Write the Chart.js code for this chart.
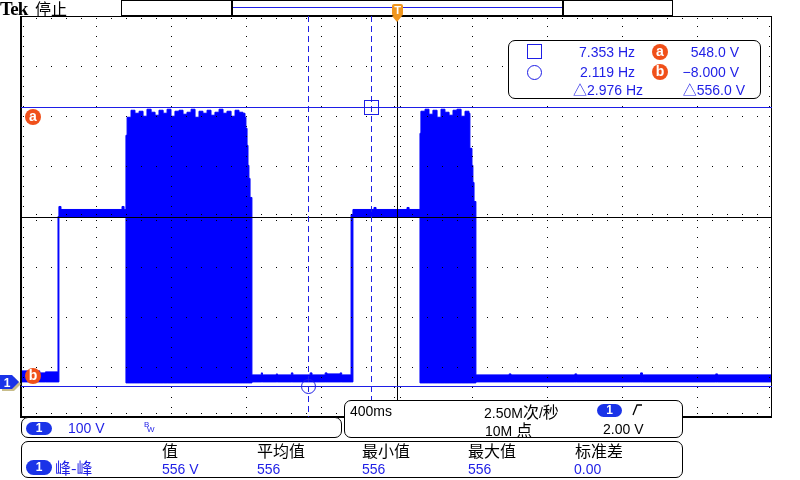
<!DOCTYPE html>
<html lang="zh">
<head>
<meta charset="utf-8">
<title>Tek 停止</title>
<script src="https://cdn.jsdelivr.net/npm/chart.js@4.4.1/dist/chart.umd.min.js"></script>
<style>
  html, body { margin: 0; padding: 0; background: #fff; }
  #scope { position: relative; width: 800px; height: 480px; overflow: hidden;
    font-family: 'Liberation Sans', 'Noto Sans CJK SC', sans-serif; font-size: 14px; }
  #scope canvas { position: absolute; left: 0; top: 0; }
  .txt { position: absolute; white-space: nowrap; line-height: 14px; }
  .cjk { font-family: 'Noto Sans CJK SC', sans-serif; font-size: 16px; line-height: 16px; }
  .in { font-family: 'Noto Sans CJK SC', sans-serif; font-size: 16px; line-height: 14px; }
  .blue { color: #1e1ee6; }
  .box { position: absolute; box-sizing: border-box; border: 1px solid #000; border-radius: 7px; background: #fff; }
  .pill { position: absolute; box-sizing: border-box; background: #1a33e8; color: #fff; border-radius: 8px;
    font-weight: bold; font-size: 12px; text-align: center; }
  .mark { position: absolute; width: 16px; height: 16px; border-radius: 50%; background: #f0501a; color: #fff;
    font-weight: bold; font-size: 14px; line-height: 14px; text-align: center; }
</style>
</head>
<body>
<div id="scope">
  <canvas id="wave" width="800" height="480"></canvas>

  <!-- top bar -->
  <div class="txt" style="left:0;top:0;font:bold 19px/18px 'Liberation Serif',serif;letter-spacing:-0.8px">Tek</div>
  <div class="txt cjk" style="left:35px;top:0">停止</div>
  <div style="position:absolute;left:121px;top:0;width:552px;height:16px;border:1px solid #000;box-sizing:border-box"></div>
  <div style="position:absolute;left:231px;top:0;width:333px;height:16px;border:1px solid #000;border-left-width:2px;border-right-width:2px;box-sizing:border-box"></div>
  <div style="position:absolute;left:233px;top:7px;width:329px;height:1px;background:#1e1ee6"></div>
  <div id="trig" style="position:absolute;top:4px;width:11px">
    <div style="height:12px;background:#f0961e;color:#fff;font:bold 11px/12px 'Liberation Sans',sans-serif;text-align:center;border-radius:2px">T</div>
    <div style="width:0;height:0;border-left:5.5px solid transparent;border-right:5.5px solid transparent;border-top:6px solid #f0961e"></div>
  </div>

  <!-- cursor readout -->
  <div class="box" style="left:508px;top:40px;width:253px;height:59px"></div>
  <div style="position:absolute;left:527px;top:44px;width:15px;height:15px;border:1.5px solid #1e1ee6;box-sizing:border-box"></div>
  <div style="position:absolute;left:527px;top:65px;width:15px;height:15px;border:1.5px solid #1e1ee6;border-radius:50%;box-sizing:border-box"></div>
  <div class="txt blue" style="right:165px;top:45px">7.353 Hz</div>
  <div class="txt blue" style="right:165px;top:65px">2.119 Hz</div>
  <div class="txt blue" style="right:157px;top:83px">△2.976 Hz</div>
  <div class="mark" style="left:652px;top:44px">a</div>
  <div class="mark" style="left:652px;top:64px">b</div>
  <div class="txt blue" style="right:61px;top:45px">548.0 V</div>
  <div class="txt blue" style="right:61px;top:65px">−8.000 V</div>
  <div class="txt blue" style="right:55px;top:83px">△556.0 V</div>

  <!-- cursor / ground markers (placed from the scales below) -->
  <div id="markA" class="mark">a</div>
  <div id="markB" class="mark">b</div>
  <svg id="gnd" width="24" height="19" style="position:absolute;left:0">
    <polygon points="2,3 14,3 21,10 14,17 2,17" fill="#c8bd8a"/>
    <polygon points="0,1 12,1 19,8 12,15 0,15" fill="#1a33e8"/>
    <text x="7" y="13" fill="#fff" font-family="Liberation Sans" font-weight="bold" font-size="12" text-anchor="middle">1</text>
  </svg>

  <!-- channel panel -->
  <div class="box" style="left:21px;top:417px;width:321px;height:21px"></div>
  <div class="pill" style="left:26px;top:422px;width:26px;height:13px;line-height:13px">1</div>
  <div class="txt blue" style="left:68px;top:421px">100 V</div>
  <div class="txt blue" style="left:144px;top:421px;font-size:8px;line-height:8px">B</div>
  <div class="txt blue" style="left:147px;top:426px;font-size:8px;line-height:8px">W</div>

  <!-- timebase panel -->
  <div class="box" style="left:344px;top:400px;width:339px;height:38px"></div>
  <div class="txt" style="left:350px;top:404px">400ms</div>
  <div class="txt" style="left:484px;top:404px">2.50M<span class="in">次</span>/<span class="in">秒</span></div>
  <div class="pill" style="left:597px;top:404px;width:25px;height:13px;line-height:13px">1</div>
  <svg style="position:absolute;left:630px;top:403px" width="16" height="16"><polyline points="3,12 7,2 12,2" fill="none" stroke="#000" stroke-width="1.3"/></svg>
  <div class="txt" style="left:485px;top:422px">10M <span class="in">点</span></div>
  <div class="txt" style="left:603px;top:422px">2.00 V</div>

  <!-- measurement panel -->
  <div class="box" style="left:21px;top:441px;width:662px;height:37px"></div>
  <div class="txt cjk" style="left:162px;top:442px">值</div>
  <div class="txt cjk" style="left:257px;top:442px">平均值</div>
  <div class="txt cjk" style="left:362px;top:442px">最小值</div>
  <div class="txt cjk" style="left:468px;top:442px">最大值</div>
  <div class="txt cjk" style="left:575px;top:442px">标准差</div>
  <div class="pill" style="left:26px;top:460px;width:26px;height:15px;line-height:15px">1</div>
  <div class="txt cjk blue" style="left:55px;top:459px">峰-峰</div>
  <div class="txt blue" style="left:162px;top:462px">556 V</div>
  <div class="txt blue" style="left:257px;top:462px">556</div>
  <div class="txt blue" style="left:362px;top:462px">556</div>
  <div class="txt blue" style="left:468px;top:462px">556</div>
  <div class="txt blue" style="left:574px;top:462px">0.00</div>
</div>

<script>
// graticule: 10 x 400ms, 8 x 100V (ground 0.7 div above the bottom)
const timeDivs = [-2.0, -1.6, -1.2, -0.8, -0.4, 0, 0.4, 0.8, 1.2, 1.6, 2.0];
const voltDivs = [-70, 30, 130, 230, 330, 430, 530, 630, 730];

// cursors: a / b voltage, square / circle time (s from trigger)
const cursorVolts = [548, -8];
const cursorTimes = [-0.136, -0.472];

// acquired envelope: time (s), max (V), min (V) - each value holds until the next time
const sampleTime = [
  -2.000, -1.900, -1.870, -1.803, -1.798, -1.787, -1.462, -1.451,
  -1.441, -1.435, -1.414, -1.393, -1.371, -1.350, -1.329, -1.307, -1.286, -1.265, -1.243,
  -1.222, -1.201, -1.180, -1.158, -1.137, -1.116, -1.094, -1.073, -1.052, -1.031,
  -1.009, -0.988, -0.967, -0.945, -0.924, -0.903, -0.881, -0.860, -0.839, -0.818,
  -0.807, -0.802, -0.796, -0.791, -0.786, -0.780,
  -0.770, -0.720, -0.714, -0.640, -0.634, -0.560, -0.552, -0.460, -0.450, -0.380, -0.370, -0.300, -0.292,
  -0.242, -0.232, -0.120, -0.109, 0.056, 0.067,
  0.125, 0.130, 0.152, 0.173, 0.194, 0.216, 0.237, 0.258, 0.280, 0.301, 0.322, 0.344, 0.365, 0.386,
  0.391, 0.402, 0.407, 0.413,
  0.423, 0.600, 0.610, 0.950, 0.960, 1.300, 1.310, 1.700, 1.710, 2.000
];
const sampleMax = [
  22, 18, 20, 330, 350, 344, 350, 344,
  492, 528, 542, 536, 540, 530, 544, 538, 532, 542, 536,
  544, 530, 540, 542, 534, 538, 544, 528, 540, 536,
  542, 532, 538, 544, 536, 540, 530, 542, 538, 536,
  528, 506, 472, 432, 406, 368,
  14, 18, 14, 16, 14, 18, 14, 18, 14, 18, 16, 18, 14,
  334, 344, 348, 344, 348, 344,
  496, 540, 544, 534, 542, 528, 544, 538, 532, 542, 544, 530, 540, 536,
  466, 432, 398, 360,
  14, 16, 14, 16, 14, 18, 14, 16, 14, 14
];
const sampleMin = [
  0, 0, 0, 0, 328, 328, 328, 328,
  -2, -2, -2, -2, -2, -2, -2, -2, -2, -2, -2,
  -2, -2, -2, -2, -2, -2, -2, -2, -2, -2,
  -2, -2, -2, -2, -2, -2, -2, -2, -2, -2,
  -2, -2, -2, -2, -2, -2,
  0, 0, 0, 0, 0, 0, 0, 0, 0, 0, 0, 0, 0,
  0, 328, 328, 328, 328, 328,
  -2, -2, -2, -2, -2, -2, -2, -2, -2, -2, -2, -2, -2, -2,
  -2, -2, -2, -2,
  0, 0, 0, 0, 0, 0, 0, 0, 0, 0
];

const TRACE = '#0000ff';
const CURSOR = '#1e1ee6';

function points(values) {
  return sampleTime.map((t, i) => ({ x: t, y: values[i] }));
}

// graticule dots + cursors, drawn over the trace like the scope does
const scopeOverlay = {
  id: 'scopeOverlay',
  afterDatasetsDraw(chart) {
    const { ctx, chartArea: a, scales: { x, y } } = chart;
    const xs = timeDivs.map(v => Math.round(x.getPixelForValue(v)));
    const ys = voltDivs.map(v => Math.round(y.getPixelForValue(v)));
    const cx = xs[5], cy = ys[4];
    const stepX = (a.right - a.left) / 50, stepY = (a.bottom - a.top) / 40;
    const dot = (px, py) => ctx.fillRect(Math.round(px), Math.round(py), 1, 1);

    ctx.save();
    ctx.fillStyle = '#000';
    xs.forEach((px, i) => {
      if (i === 0 || i === 5 || i === 10) return;
      for (let j = 1; j < 40; j++) dot(px, a.top + j * stepY);
    });
    ys.forEach((py, i) => {
      if (i === 0 || i === 4 || i === 8) return;
      for (let j = 1; j < 50; j++) dot(a.left + j * stepX, py);
    });
    for (let j = 1; j < 40; j++) {
      dot(cx - 3, a.top + j * stepY); dot(cx + 3, a.top + j * stepY);
      dot(a.left + 2, a.top + j * stepY); dot(a.right - 3, a.top + j * stepY);
    }
    for (let j = 1; j < 50; j++) {
      dot(a.left + j * stepX, cy - 3); dot(a.left + j * stepX, cy + 3);
      dot(a.left + j * stepX, a.top + 2); dot(a.left + j * stepX, a.bottom - 4);
    }
    ctx.fillRect(cx, a.top, 1, a.bottom - a.top);
    ctx.fillRect(a.left, cy, a.right - a.left, 1);
    ctx.fillRect(Math.round(a.left) - 1, a.top, 2, a.bottom - a.top);
    ctx.fillRect(Math.round(a.right) - 1, a.top, 1, a.bottom - a.top);
    ctx.fillRect(a.left, a.top, a.right - a.left, 1);
    ctx.fillRect(Math.round(a.left) - 1, Math.round(a.bottom) - 1, a.right - a.left + 1, 2);

    // cursors
    ctx.strokeStyle = CURSOR;
    ctx.lineWidth = 1;
    cursorVolts.forEach(v => {
      const py = Math.round(y.getPixelForValue(v)) + 0.5;
      ctx.beginPath(); ctx.moveTo(a.left, py); ctx.lineTo(a.right, py); ctx.stroke();
    });
    ctx.setLineDash([6, 4]);
    cursorTimes.forEach(t => {
      const px = Math.round(x.getPixelForValue(t)) + 0.5;
      ctx.beginPath(); ctx.moveTo(px, a.top); ctx.lineTo(px, a.bottom); ctx.stroke();
    });
    ctx.setLineDash([]);
    const sqX = Math.round(x.getPixelForValue(cursorTimes[0])) + 0.5;
    const sqY = Math.round(y.getPixelForValue(cursorVolts[0])) + 0.5;
    ctx.strokeRect(sqX - 7, sqY - 7, 14, 14);
    const ciX = Math.round(x.getPixelForValue(cursorTimes[1])) + 0.5;
    const ciY = Math.round(y.getPixelForValue(cursorVolts[1])) + 0.5;
    ctx.beginPath(); ctx.arc(ciX, ciY, 7, 0, Math.PI * 2); ctx.stroke();
    ctx.restore();
  }
};

const chart = new Chart(document.getElementById('wave'), {
  type: 'line',
  data: {
    datasets: [
      { data: points(sampleMax), borderColor: TRACE, backgroundColor: TRACE, borderWidth: 1,
        pointRadius: 0, stepped: 'before', fill: '+1' },
      { data: points(sampleMin), borderColor: TRACE, borderWidth: 1,
        pointRadius: 0, stepped: 'before', fill: false }
    ]
  },
  options: {
    responsive: false,
    animation: false,
    devicePixelRatio: 1,
    layout: { padding: { left: 21, right: 28, top: 16, bottom: 63 } },
    plugins: { legend: { display: false }, tooltip: { enabled: false } },
    scales: {
      x: { type: 'linear', display: false, min: -2, max: 2 },
      y: { type: 'linear', display: false, min: -70, max: 730 }
    }
  },
  plugins: [scopeOverlay]
});

// markers that hang off the scales
const xScale = chart.scales.x, yScale = chart.scales.y;
function place(id, left, top) {
  const el = document.getElementById(id);
  el.style.left = Math.round(left) + 'px';
  el.style.top = Math.round(top) + 'px';
}
place('markA', 25, yScale.getPixelForValue(cursorVolts[0]) + 2);
place('markB', 25, yScale.getPixelForValue(cursorVolts[1]) - 18);
place('gnd', 0, yScale.getPixelForValue(0) - 8);
place('trig', xScale.getPixelForValue(0) - 5, 4);
</script>
</body>
</html>
